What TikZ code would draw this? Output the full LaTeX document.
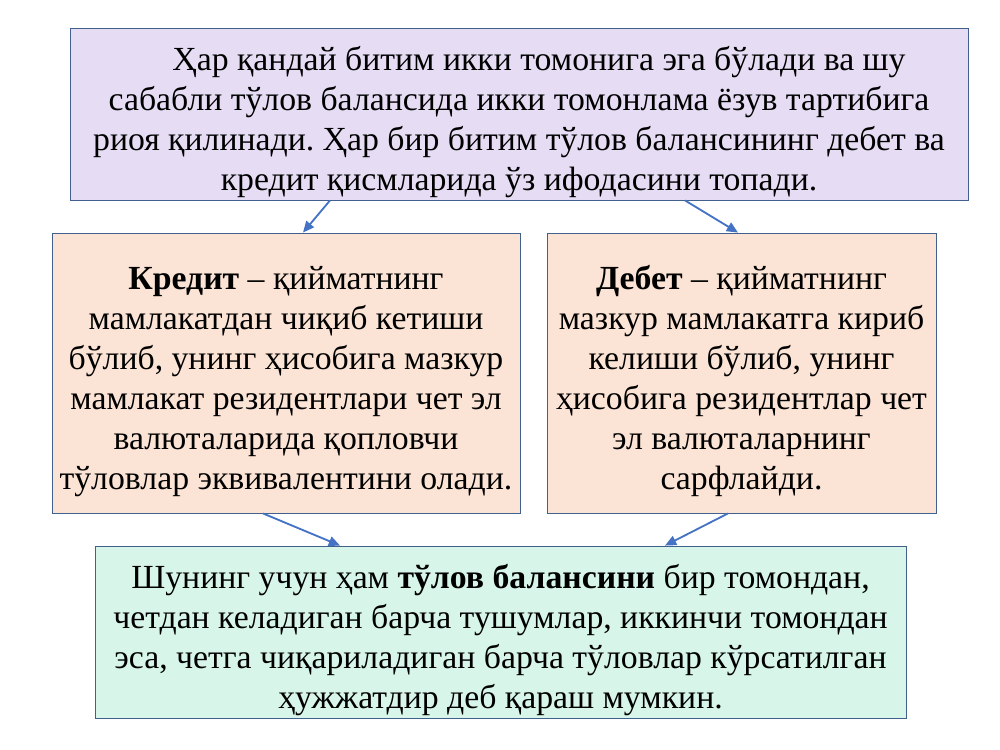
\documentclass[tikz,border=0pt]{standalone}
\usepackage{fontspec}
\setmainfont{Liberation Serif}
\frenchspacing
\usetikzlibrary{arrows.meta}
\definecolor{lilac}{HTML}{E6DDF5}
\definecolor{peach}{HTML}{FBE4D5}
\definecolor{mint}{HTML}{D7F6E9}
\definecolor{edge}{HTML}{41608C}
\definecolor{arrowblue}{HTML}{4472C4}
\newcommand{\firststrut}{\rule{0pt}{1cm}}
\tikzset{
  box/.style={draw=edge,line width=0.6pt,inner sep=0pt,align=center,
    font=\fontsize{24}{28.5}\selectfont},
  arr/.style={arrowblue,line width=1.3pt,-{Triangle[length=8pt,width=7pt]}}
}
\begin{document}
\begin{tikzpicture}[x=0.025cm,y=-0.025cm]
		\useasboundingbox (0,0) rectangle (1000,750);
		% boxes
		\node[box,fill=lilac,minimum width=898*0.025cm,minimum height=172*0.025cm] (top) at (519,114)
		{\firststrut\hspace*{1cm}Ҳар қандай битим икки томонига эга бўлади ва шу\\
		сабабли тўлов балансида икки томонлама ёзув тартибига\\
		риоя қилинади. Ҳар бир битим тўлов балансининг дебет ва\\
		кредит қисмларида ўз ифодасини топади.};
		\node[box,fill=peach,minimum width=468*0.025cm,minimum height=280*0.025cm] (credit) at (286,373)
		{\firststrut\textbf{Кредит} – қийматнинг\\
		мамлакатдан чиқиб кетиши\\
		бўлиб, унинг ҳисобига мазкур\\
		мамлакат резидентлари чет эл\\
		валюталарида қопловчи\\
		тўловлар эквивалентини олади.};
		\node[box,fill=peach,minimum width=389*0.025cm,minimum height=280*0.025cm] (debit) at (741.5,373)
		{\firststrut\textbf{Дебет} – қийматнинг\\
		мазкур мамлакатга кириб\\
		келиши бўлиб, унинг\\
		ҳисобига резидентлар чет\\
		эл валюталарнинг\\
		сарфлайди.};
		\node[box,fill=mint,minimum width=811*0.025cm,minimum height=172*0.025cm] (result) at (500.5,632)
		{\firststrut Шунинг учун ҳам \textbf{тўлов балансини} бир томондан,\\
		четдан келадиган барча тушумлар, иккинчи томондан\\
		эса, четга чиқариладиган барча тўловлар кўрсатилган\\
		ҳужжатдир деб қараш мумкин.};
		% arrows
		\draw[arr] ([shift={(-189,0)}]top.south) -- ([shift={(17,0)}]credit.north);
		\draw[arr] ([shift={(166,0)}]top.south) -- ([shift={(-3.5,0)}]debit.north);
		\draw[arr] ([shift={(-23,0)}]credit.south) -- ([shift={(-160.5,0)}]result.north);
		\draw[arr] ([shift={(-13.5,0)}]debit.south) -- ([shift={(164.5,0)}]result.north);
	    \end{tikzpicture}
\end{document}
